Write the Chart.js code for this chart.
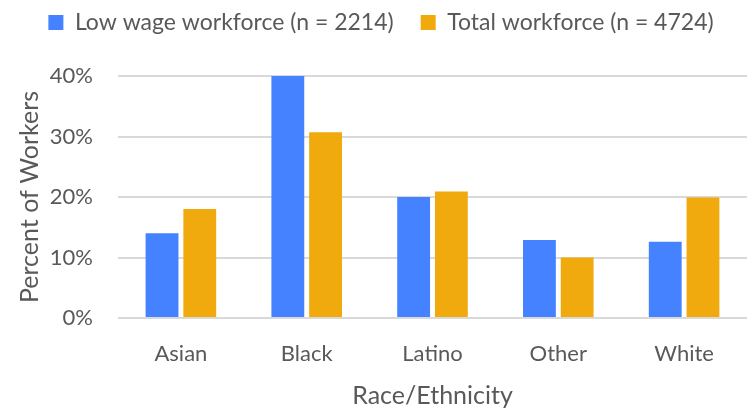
<!DOCTYPE html>
<html>
<head>
<meta charset="utf-8">
<script src="https://cdn.jsdelivr.net/npm/chart.js@4"></script>
<style>
  html, body { margin: 0; padding: 0; background: #fff; }
  #wrap { width: 747px; height: 411px; }
</style>
</head>
<body>
<div id="wrap"><canvas id="chart"></canvas></div>
<script>
// Dados
const categorias = ['Asian', 'Black', 'Latino', 'Other', 'White'];
const baixoSalario = [14.0, 40.0, 20.0, 12.9, 12.6];
const totalForca = [18.0, 30.7, 20.9, 10.0, 19.9];
const nomesSeries = ['Low wage workforce (n = 2214)', 'Total workforce (n = 4724)'];

const fonte = "Lato, 'Open Sans', sans-serif";
const cinza = '#595959';

// Espaço extra abaixo da legenda
const espacoLegenda = {
    id: 'espacoLegenda',
    beforeInit(chart) {
        const fitOriginal = chart.legend.fit;
        chart.legend.fit = function () {
            fitOriginal.bind(chart.legend)();
            this.height += 32;
        };
    }
};

new Chart(document.getElementById('chart').getContext('2d'), {
    type: 'bar',
    data: {
        labels: categorias,
        datasets: [
            { label: nomesSeries[0], data: baixoSalario, backgroundColor: '#4482ff' },
            { label: nomesSeries[1], data: totalForca, backgroundColor: '#f0aa0d' }
        ]
    },
    options: {
        responsive: true,
        maintainAspectRatio: false,
        animation: false,
        categoryPercentage: 0.6,
        barPercentage: 0.87,
        layout: { padding: { top: -16, right: 0, left: 15, bottom: 0 } },
        plugins: {
            legend: {
                position: 'top',
                labels: {
                    boxWidth: 15,
                    boxHeight: 15,
                    padding: 27,
                    color: cinza,
                    font: { family: fonte, size: 23 }
                }
            },
            tooltip: { enabled: false }
        },
        scales: {
            x: {
                grid: { display: false },
                border: { display: false },
                afterFit: scale => { scale.height = 93; },
                ticks: { color: cinza, font: { family: fonte, size: 22 }, padding: 15 },
                title: { display: true, text: 'Race/Ethnicity', color: cinza, font: { family: fonte, size: 25 }, padding: { top: 0, bottom: 0 } }
            },
            y: {
                min: 0,
                max: 40,
                afterFit: scale => { scale.width = 103; },
                ticks: {
                    stepSize: 10,
                    color: cinza,
                    padding: 25,
                    font: { family: fonte, size: 22 },
                    callback: v => v + '%'
                },
                grid: { color: '#d9d9d9', lineWidth: 2, drawTicks: false },
                border: { display: false },
                title: { display: true, text: 'Percent of Workers', color: cinza, font: { family: fonte, size: 25 }, padding: { top: 0, bottom: 0 } }
            }
        }
    },
    plugins: [espacoLegenda]
});
</script>
</body>
</html>
